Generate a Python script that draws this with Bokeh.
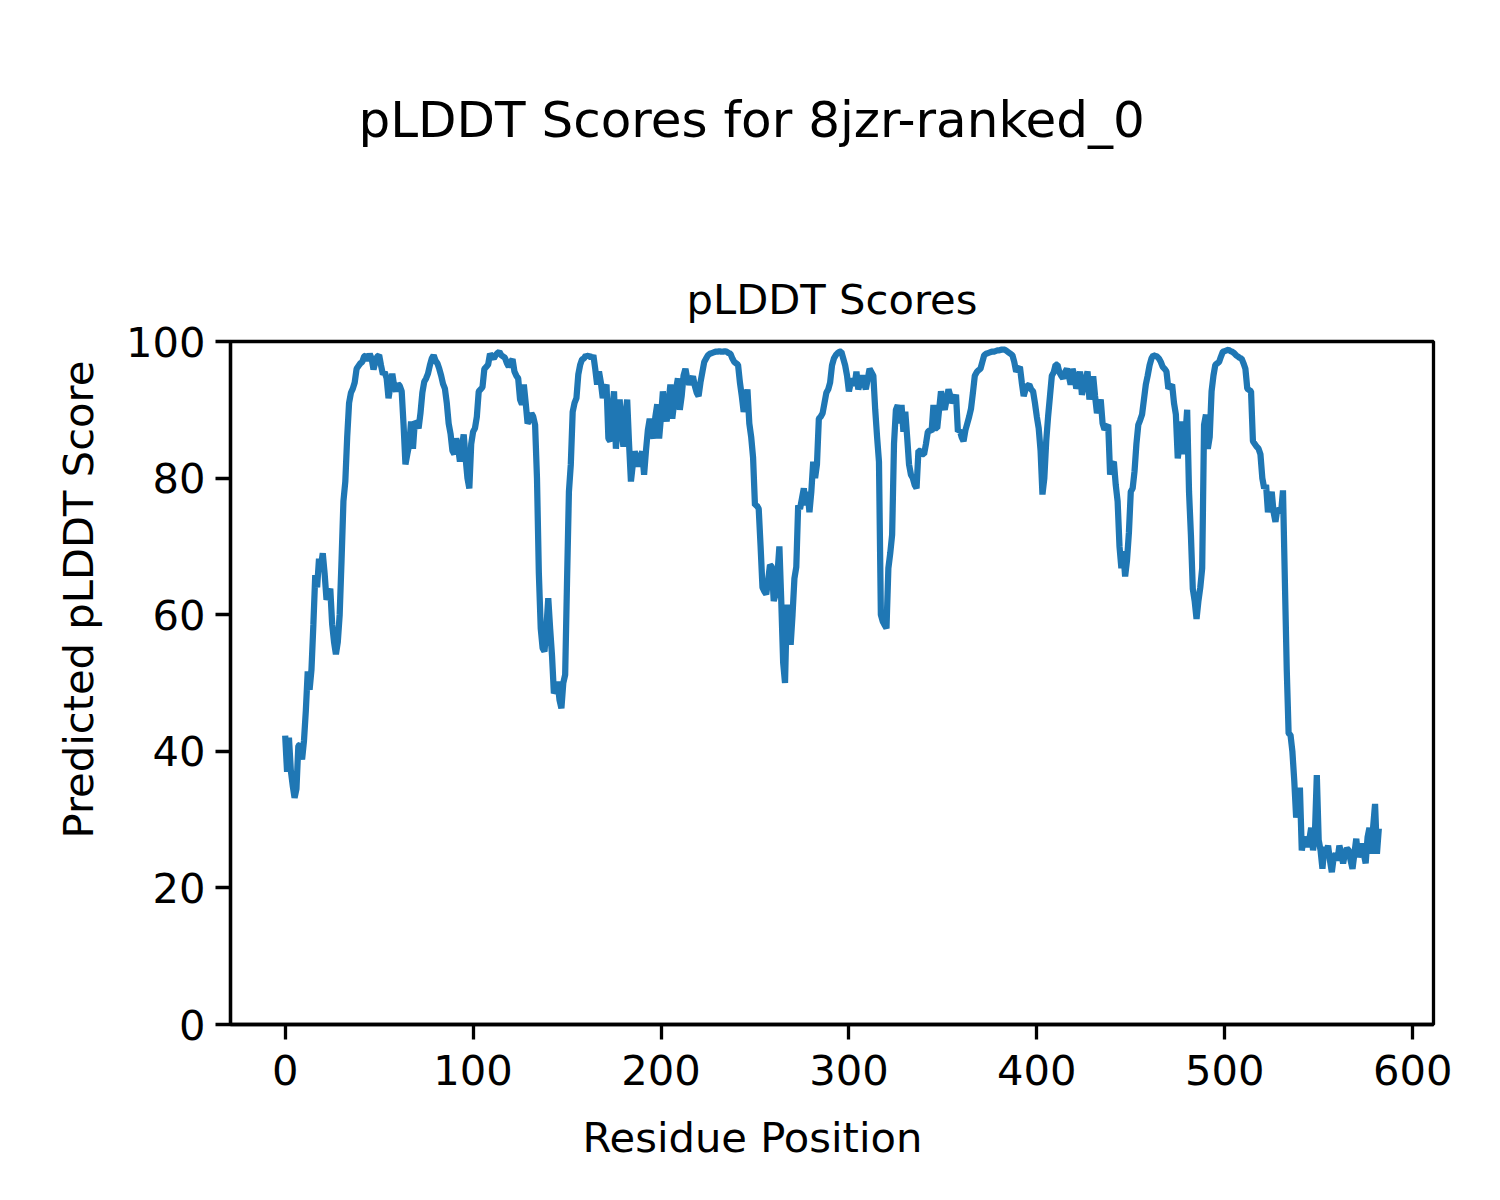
from bokeh.plotting import figure
from bokeh.models import Title, FixedTicker, Range1d
from bokeh.embed import file_html
from bokeh.resources import INLINE

suptitle_text = "pLDDT Scores for 8jzr-ranked_0"
axes_title_text = "pLDDT Scores"
x_label = "Residue Position"
y_label = "Predicted pLDDT Score"
x_ticks = [0, 100, 200, 300, 400, 500, 600]
y_ticks = [0, 20, 40, 60, 80, 100]

plddt = [
    42.3, 37.0, 42.0, 37.2, 35.0, 33.2, 34.5, 40.8, 41.0, 38.8,
    41.5, 46.0, 51.7, 49.0, 52.0, 58.5, 65.8, 64.0, 68.2, 67.0,
    69.0, 66.0, 62.2, 63.0, 63.8, 58.6, 56.0, 54.2, 56.0, 60.0,
    68.0, 76.6, 79.5, 86.0, 91.0, 92.5, 93.1, 94.0, 96.0, 96.4,
    96.8, 97.0, 97.8, 98.0, 97.2, 98.2, 97.5, 95.9, 97.0, 97.8,
    98.0, 96.5, 95.2, 95.5, 94.6, 91.7, 93.5, 95.3, 93.5, 92.7,
    93.8, 93.5, 92.7, 87.8, 82.0, 83.5, 84.9, 88.3, 84.3, 88.3,
    88.0, 87.3, 89.5, 92.5, 94.1, 94.6, 95.3, 96.5, 97.5, 98.0,
    97.2, 96.8, 96.0, 95.0, 93.8, 93.1, 91.0, 88.0, 86.5, 84.0,
    83.5, 85.8, 84.5, 82.4, 84.5, 86.4, 83.0, 80.0, 78.5, 85.0,
    86.8, 87.3, 89.0, 92.7, 93.0, 93.3, 96.0, 96.3, 96.6, 98.2,
    97.8, 97.5, 98.0, 98.3, 98.5, 98.0, 97.8, 97.6, 96.8, 96.3,
    97.0, 97.4, 95.6, 95.0, 94.6, 91.5, 90.8, 93.7, 91.0, 88.0,
    88.5, 89.5, 89.0, 87.8, 80.0, 66.0, 58.0, 55.1, 54.6, 58.0,
    62.4, 58.0, 54.0, 48.5, 49.0, 50.2, 47.5, 46.3, 50.0, 51.2,
    65.0, 78.0, 82.0, 89.7, 91.0, 91.7, 95.2, 96.6, 97.4, 97.5,
    98.0, 97.8, 98.0, 97.5, 98.0, 96.0, 93.7, 95.6, 94.0, 91.7,
    93.0, 93.7, 85.8, 85.4, 90.0, 92.7, 84.3, 88.0, 91.5, 87.0,
    84.6, 89.0, 91.5, 85.0, 79.5, 82.0, 83.9, 83.0, 81.7, 83.0,
    83.9, 80.5, 84.0, 87.0, 88.7, 87.0, 85.8, 89.0, 90.8, 85.8,
    89.0, 92.7, 90.0, 88.3, 91.0, 93.7, 88.7, 91.0, 93.0, 94.6,
    90.0, 92.0, 95.0, 96.0, 94.5, 93.7, 94.3, 94.9, 93.5, 92.5,
    92.0, 94.0, 95.5, 97.0, 97.5, 98.0, 98.2, 98.3, 98.4, 98.5,
    98.5, 98.6, 98.5, 98.5, 98.6, 98.5, 98.3, 98.2, 97.5, 97.0,
    96.8, 96.6, 94.0, 92.0, 89.7, 91.0, 93.0, 88.0, 86.0, 83.0,
    76.0, 76.0, 75.5, 70.0, 64.0, 63.4, 63.0, 65.0, 67.3, 67.0,
    62.0, 63.0, 66.0, 70.0, 62.0, 53.0, 50.0, 61.5, 58.0, 55.6,
    60.0, 65.3, 67.0, 76.0, 75.5, 77.0, 78.5, 76.0, 78.0, 75.0,
    78.0, 82.4, 80.0, 82.0, 88.7, 89.0, 89.5, 91.0, 92.5, 93.0,
    94.0, 96.5, 97.5, 98.0, 98.3, 98.5, 98.5, 97.5, 96.5, 95.0,
    92.7, 94.0, 94.5, 93.5, 95.6, 93.0, 94.0, 95.0, 94.0, 93.0,
    94.5, 96.0, 95.5, 95.0, 90.0, 86.0, 82.4, 60.0, 59.0, 58.5,
    58.0, 66.8, 69.0, 71.7, 85.0, 90.0, 90.7, 88.0, 90.7, 86.8,
    89.7, 86.0, 82.0, 80.5, 80.0, 79.0, 78.5, 84.0, 84.0, 83.5,
    83.5, 85.0, 86.8, 87.0, 86.8, 90.7, 87.3, 87.3, 90.0, 92.7,
    91.0, 90.0, 91.5, 93.0, 92.0, 91.0, 91.5, 92.2, 86.8, 87.0,
    86.0, 85.4, 87.0, 88.0, 89.0, 90.2, 92.5, 95.0, 95.5, 95.8,
    96.0, 97.0, 98.0, 98.2, 98.3, 98.4, 98.5, 98.5, 98.6, 98.7,
    98.7, 98.8, 98.8, 98.8, 98.6, 98.4, 98.2, 98.0, 97.0, 95.6,
    96.0, 96.3, 94.0, 92.0, 93.0, 93.5, 93.7, 93.0, 92.7, 91.0,
    89.0, 87.3, 84.0, 77.6, 80.0, 85.4, 89.0, 92.0, 95.0, 95.5,
    96.6, 96.6, 95.5, 95.0, 94.6, 95.5, 96.0, 95.0, 93.7, 96.0,
    95.0, 93.1, 94.0, 95.6, 92.2, 93.5, 94.5, 95.6, 91.5, 93.0,
    94.9, 92.0, 89.5, 90.5, 91.5, 88.0, 87.1, 87.5, 87.8, 80.5,
    82.0, 82.4, 79.0, 76.6, 70.0, 66.8, 69.3, 65.6, 68.0, 72.0,
    78.0, 78.5, 81.0, 85.0, 87.8, 88.5, 89.3, 91.5, 93.7, 95.0,
    96.5, 97.5, 98.0, 97.9, 97.8, 97.5, 97.0, 96.3, 96.0, 95.6,
    93.1, 93.4, 93.7, 91.0, 89.3, 82.9, 85.0, 88.3, 83.5, 86.0,
    90.0, 78.0, 71.7, 63.8, 62.0, 59.4, 62.0, 64.0, 66.8, 87.8,
    89.3, 84.3, 86.0, 92.7, 95.0, 96.6, 96.8, 97.0, 97.8, 98.5,
    98.6, 98.7, 98.8, 98.6, 98.5, 98.3, 98.0, 97.8, 97.6, 97.5,
    96.8, 96.0, 93.1, 92.9, 92.7, 85.4, 85.0, 84.6, 84.3, 83.5,
    80.0, 78.5, 79.0, 75.0, 76.5, 78.0, 75.0, 73.6, 75.5, 75.3,
    75.0, 78.2, 65.0, 52.0, 42.6, 42.4, 40.0, 35.7, 30.3, 32.0,
    34.7, 25.5, 27.0, 27.4, 26.0, 27.0, 28.8, 25.5, 28.0, 36.5,
    27.0, 25.5, 22.8, 26.0, 25.0, 26.2, 24.0, 22.3, 24.5, 25.0,
    24.0, 26.2, 25.0, 23.6, 25.0, 25.8, 25.5, 24.0, 22.8, 25.0,
    27.2, 24.5, 25.5, 26.5, 25.0, 23.6, 27.4, 28.8, 25.0, 29.0,
    32.3, 25.0, 28.7,
]
residue = list(range(len(plddt)))

FONT = "DejaVu Sans"
n = len(plddt) - 1
pad = 0.05 * n

p = figure(
    output_backend="svg", toolbar_location=None,
    frame_width=1203, frame_height=683,
    min_border_left=230, min_border_right=51,
    min_border_top=341, min_border_bottom=160,
    x_range=Range1d(-pad, n + pad), y_range=Range1d(0, 100),
    background_fill_color="white", border_fill_color="white",
    outline_line_color="black", outline_line_width=3.3,
)
p.line(residue, plddt, line_color="#1f77b4", line_width=6.25)

p.xgrid.visible = False
p.ygrid.visible = False

for ax in (p.xaxis[0], p.yaxis[0]):
    ax.axis_line_width = 3.3
    ax.major_tick_line_width = 3.3
    ax.major_tick_out = 15
    ax.major_tick_in = 0
    ax.minor_tick_line_color = None
    ax.major_label_text_font = FONT
    ax.major_label_text_font_size = "41.67px"
    ax.major_label_text_color = "black"
p.xaxis[0].ticker = FixedTicker(ticks=x_ticks)
p.yaxis[0].ticker = FixedTicker(ticks=y_ticks)
p.xaxis[0].major_label_standoff = 15
p.yaxis[0].major_label_standoff = 10

# figure-level title (outermost)
p.title.text = suptitle_text
p.title.align = "left"
p.title.offset = 128
p.title.text_font = FONT
p.title.text_font_size = "50px"
p.title.text_font_style = "normal"
p.title.text_color = "black"
p.title.standoff = 10

# axes title (closest to the frame)
axt = Title(text=axes_title_text, align="center",
            text_font=FONT, text_font_size="41.67px", text_font_style="normal",
            text_color="black", standoff=35)
p.add_layout(axt, "above")
# spacer between the two titles
spacer = Title(text=" ", text_font_size="10px", standoff=89)
p.add_layout(spacer, "above")

xl = Title(text=x_label, align="left", offset=352,
           text_font=FONT, text_font_size="41.67px", text_font_style="normal",
           text_color="black", standoff=46)
p.add_layout(xl, "below")

yl = Title(text=y_label, align="left", offset=186,
           text_font=FONT, text_font_size="41.67px", text_font_style="normal",
           text_color="black", standoff=40)
p.add_layout(yl, "left")

open("out.html", "w").write(file_html(p, INLINE))
